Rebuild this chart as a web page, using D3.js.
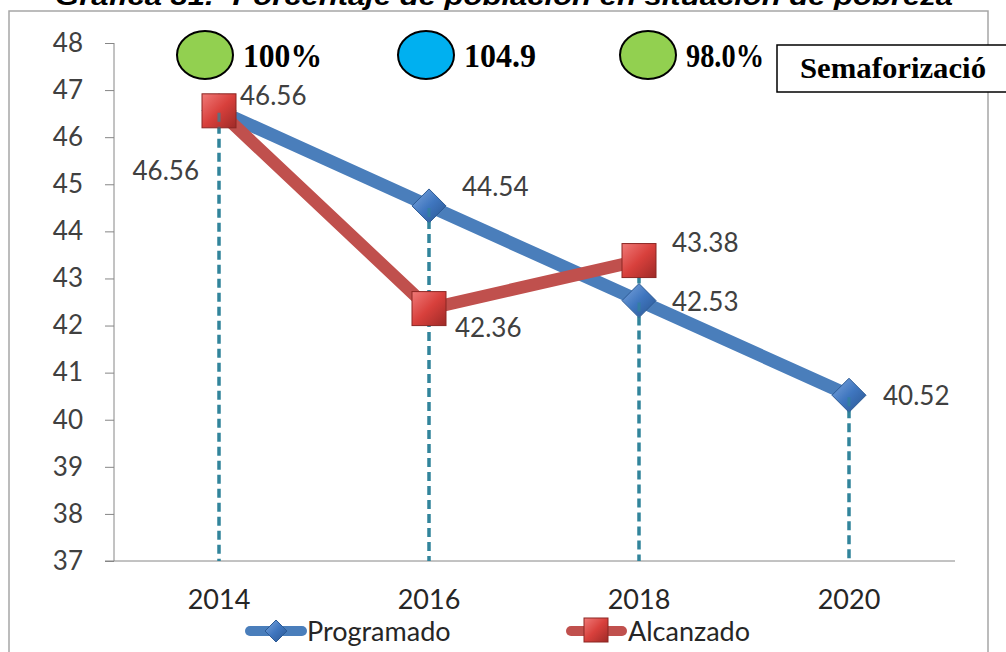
<!DOCTYPE html>
<html><head><meta charset="utf-8">
<script src="https://cdn.jsdelivr.net/npm/d3@7/dist/d3.min.js"></script>
<style>body{margin:0;background:#fff;}svg{display:block;}</style>
</head><body>
<svg id="c" width="1006" height="652"></svg>
<script>
const years = ["2014","2016","2018","2020"];
const programado = [46.56, 44.54, 42.53, 40.52];
const alcanzadoYears = ["2014","2016","2018"];
const alcanzado = [46.56, 42.36, 43.38];
const yTicks = [37,38,39,40,41,42,43,44,45,46,47,48];
const semaforo = [
  {label:"100%", color:"#92D050"},
  {label:"104.9", color:"#00B0F0"},
  {label:"98.0%", color:"#92D050"}
];
const titleText = "Gráfica 31.- Porcentaje de población en situación de pobreza";
const boxText = "Semaforizació";

const svg = d3.select("#c");
const defs = svg.append("defs");
const rg = defs.append("linearGradient").attr("id","redg").attr("x1","0").attr("y1","0").attr("x2","1").attr("y2","1");
rg.append("stop").attr("offset","0").attr("stop-color","#F07A78");
rg.append("stop").attr("offset","0.5").attr("stop-color","#D8403C");
rg.append("stop").attr("offset","1").attr("stop-color","#9E2A27");
const bg = defs.append("linearGradient").attr("id","blueg").attr("x1","0").attr("y1","0").attr("x2","1").attr("y2","1");
bg.append("stop").attr("offset","0").attr("stop-color","#7FA8DE");
bg.append("stop").attr("offset","0.5").attr("stop-color","#3F76BF");
bg.append("stop").attr("offset","1").attr("stop-color","#2A5590");

// outer frame
svg.append("rect").attr("x",9).attr("y",11).attr("width",979).attr("height",660)
  .attr("fill","none").attr("stroke","#A6A6A6").attr("stroke-width",1.5);

// title (clipped at top, as in the reference)
svg.append("text").attr("x",504).attr("y",5).attr("text-anchor","middle")
  .attr("font-family","Liberation Sans, Arial, sans-serif").attr("font-weight","bold")
  .attr("font-style","italic").attr("font-size",26).attr("fill","#000")
  .attr("textLength",898).attr("lengthAdjust","spacingAndGlyphs").text(titleText);

const x = d3.scaleBand().domain(years).range([114,954]);
const y = d3.scaleLinear().domain([37,48]).range([561,43]);
const cx = d => x(d) + x.bandwidth()/2;

// y axis
const yAxis = svg.append("g").attr("transform","translate(114,0)")
  .call(d3.axisLeft(y).tickValues(yTicks).tickSize(9).tickPadding(22).tickFormat(d3.format("d")));
yAxis.select(".domain").attr("stroke","#868686").attr("d","M0,43V561");
yAxis.selectAll(".tick line").attr("stroke","#868686");
yAxis.selectAll("text").attr("font-family","Lato, sans-serif").attr("font-size",26).attr("fill","#404040");

// x axis
const xAxis = svg.append("g").attr("transform","translate(0,561)")
  .call(d3.axisBottom(x).tickSize(0).tickPadding(29));
xAxis.select(".domain").attr("stroke","#868686").attr("d","M105,0H955");
xAxis.selectAll("text").attr("font-family","Lato, sans-serif").attr("font-size",27).attr("fill","#262626");

// drop lines
svg.append("g").selectAll("line").data(years).join("line")
  .attr("x1",d=>cx(d)).attr("x2",d=>cx(d))
  .attr("y1",(d,i)=>{const vals=[programado[i]]; if(i<alcanzado.length) vals.push(alcanzado[i]); return y(d3.max(vals));})
  .attr("y2",561)
  .attr("stroke","#31849B").attr("stroke-width",3.5).attr("stroke-dasharray","9,5");

// lines
const line = d3.line().x(d=>cx(d[0])).y(d=>y(d[1]));
svg.append("path").datum(years.map((d,i)=>[d,programado[i]])).attr("d",line)
  .attr("fill","none").attr("stroke","#4A7EBB").attr("stroke-width",13).attr("stroke-linejoin","round");
svg.append("path").datum(alcanzadoYears.map((d,i)=>[d,alcanzado[i]])).attr("d",line)
  .attr("fill","none").attr("stroke","#C0504D").attr("stroke-width",12.5).attr("stroke-linejoin","round");

// markers
function diamond(g, px, py, s){
  g.append("path").attr("d",`M${px},${py-s}L${px+s},${py}L${px},${py+s}L${px-s},${py}Z`)
   .attr("fill","url(#blueg)").attr("stroke","#2C5A94").attr("stroke-width",1);
}
function square(g, px, py, s){
  g.append("rect").attr("x",px-s).attr("y",py-s).attr("width",2*s).attr("height",2*s)
   .attr("fill","url(#redg)").attr("stroke","#8B2623").attr("stroke-width",1);
}
const mk = svg.append("g");
years.forEach((d,i)=>diamond(mk,cx(d),y(programado[i]),17));
alcanzadoYears.forEach((d,i)=>square(mk,cx(d),y(alcanzado[i]),17));
// drop line visible through markers (as in reference)
svg.append("g").selectAll("line").data(years).join("line")
  .attr("x1",d=>cx(d)).attr("x2",d=>cx(d))
  .attr("y1",(d,i)=>y(programado[i])+2).attr("y2",(d,i)=>y(programado[i])+17)
  .attr("stroke","#31849B").attr("stroke-width",3).attr("stroke-dasharray","9,5").attr("opacity",0.7);

// data labels
const lf = {"font-family":"Lato, sans-serif","font-size":26,"fill":"#404040"};
function lab(t, px, py, anchor){
  const e = svg.append("text").attr("x",px).attr("y",py).attr("text-anchor",anchor||"start").text(t);
  Object.entries(lf).forEach(([k,v])=>e.attr(k,v));
}
const fmt = d3.format(".2f");
const pOff = [[-20,69,"end"],[33,-10],[33,10],[34,10]];
programado.forEach((v,i)=>lab(fmt(v), cx(years[i])+pOff[i][0], y(v)+pOff[i][1], pOff[i][2]));
const aOff = [[21,-6],[26,28],[33,-9]];
alcanzado.forEach((v,i)=>lab(fmt(v), cx(alcanzadoYears[i])+aOff[i][0], y(v)+aOff[i][1]));

// semaforo
const sx = [205, 426, 648];
const sg = svg.append("g");
semaforo.forEach((s,i)=>{
  sg.append("ellipse").attr("cx",sx[i]).attr("cy",55).attr("rx",28).attr("ry",24)
    .attr("fill",s.color).attr("stroke","#000").attr("stroke-width",2);
  sg.append("text").attr("x",sx[i]+38).attr("y",67)
    .attr("font-family","Liberation Serif, Times New Roman, serif").attr("font-weight","bold")
    .attr("font-size",34).attr("fill","#000")
    .attr("textLength", [79,72,78][i]).attr("lengthAdjust","spacingAndGlyphs").text(s.label);
});
sg.append("rect").attr("x",777).attr("y",45).attr("width",230).attr("height",47)
  .attr("fill","#fff").attr("stroke","#000").attr("stroke-width",1.5);
sg.append("text").attr("x",800).attr("y",78)
  .attr("font-family","Liberation Serif, Times New Roman, serif").attr("font-weight","bold")
  .attr("font-size",29).attr("fill","#000").attr("textLength",186).attr("lengthAdjust","spacingAndGlyphs").text(boxText);

// legend
const lg = svg.append("g");
lg.append("line").attr("x1",250).attr("x2",302).attr("y1",631).attr("y2",631)
  .attr("stroke","#4A7EBB").attr("stroke-width",10).attr("stroke-linecap","round");
diamond(lg,276,631,11);
lg.append("text").attr("x",307).attr("y",641).attr("font-family","Lato, sans-serif").attr("font-size",27).attr("fill","#262626").text("Programado");
lg.append("line").attr("x1",571).attr("x2",622).attr("y1",631).attr("y2",631)
  .attr("stroke","#C0504D").attr("stroke-width",10).attr("stroke-linecap","round");
square(lg,596,630,12);
lg.append("text").attr("x",628).attr("y",641).attr("font-family","Lato, sans-serif").attr("font-size",27).attr("fill","#262626").text("Alcanzado");
</script>
</body></html>
